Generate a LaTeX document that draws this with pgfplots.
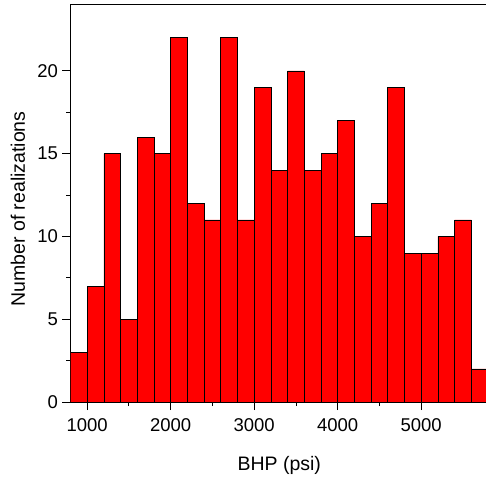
\documentclass[border=0pt]{standalone}
\usepackage{fontspec}
\setmainfont{Liberation Sans}
\usepackage{pgfplots}
\pgfplotsset{compat=1.18}
\begin{document}
\begin{tikzpicture}
\path[use as bounding box] (-70.5pt,-81pt) rectangle (415.5pt,402pt);
\begin{axis}[
  scale only axis,
  width=417.5pt, height=397.3pt,
  xmin=800, xmax=5800, ymin=0, ymax=24,
  axis line style={line width=0.9pt},
  tick style={line width=0.9pt, black},
  tick align=outside, tick pos=left,
  major tick length=8pt, minor tick length=4pt,
  xtick={1000,2000,3000,4000,5000},
  ytick={0,5,10,15,20},
  minor x tick num=1, minor y tick num=1,
  /pgf/number format/assume math mode=true,
  /pgf/number format/set thousands separator={},
  ticklabel style={font=\fontsize{18.5}{20}\selectfont},
  xticklabel style={anchor=base, yshift=-21pt},
  yticklabel style={anchor=east, xshift=-1pt},
  xlabel={BHP (psi)},
  ylabel={Number of realizations},
  every axis x label/.style={at={(axis description cs:0.5,-0.1712)}, anchor=base, font=\fontsize{19.5}{22}\selectfont},
  every axis y label/.style={at={(axis description cs:-0.1257,0.486)}, anchor=center, rotate=90, font=\fontsize{19.5}{22}\selectfont},
]
\addplot[ybar interval, fill=red, draw=black, line width=0.7pt] coordinates {
(800,3) (1000,7) (1200,15) (1400,5) (1600,16) (1800,15) (2000,22) (2200,12)
(2400,11) (2600,22) (2800,11) (3000,19) (3200,14) (3400,20) (3600,14) (3800,15)
(4000,17) (4200,10) (4400,12) (4600,19) (4800,9) (5000,9) (5200,10) (5400,11)
(5600,2) (5800,2)
};
\end{axis}
\end{tikzpicture}
\end{document}
